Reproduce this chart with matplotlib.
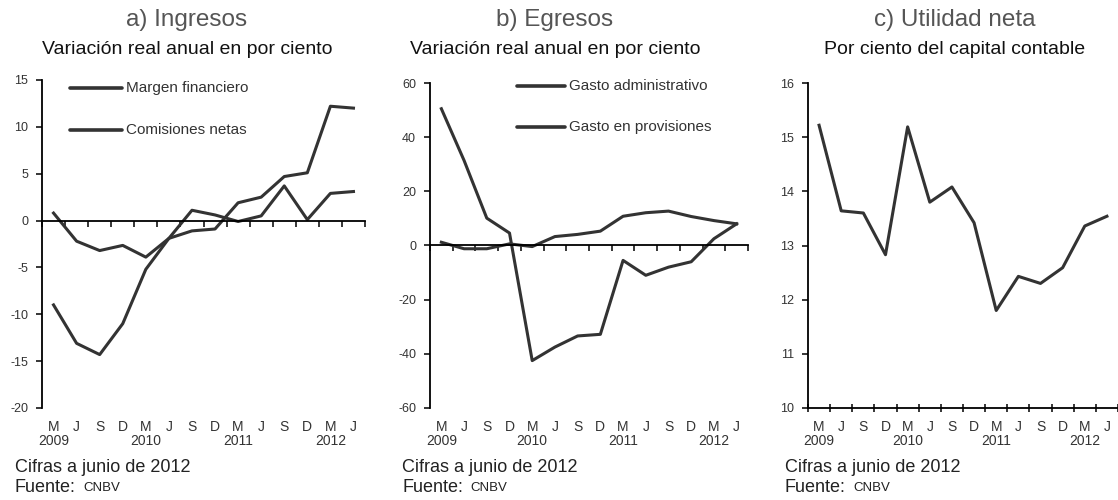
import matplotlib
matplotlib.use("Agg")
import matplotlib.pyplot as plt
import matplotlib.transforms as mtransforms
import numpy as np

plt.rcParams['font.family'] = ['Liberation Sans', 'DejaVu Sans']

# datos
meses = ["M", "J", "S", "D", "M", "J", "S", "D", "M", "J", "S", "D", "M", "J"]
anios = {0: "2009", 4: "2010", 8: "2011", 12: "2012"}

margen_financiero = [0.8, -2.2, -3.2, -2.65, -3.9, -1.9, -1.1, -0.9, 1.9, 2.5, 4.7, 5.1, 12.2, 12.0]
comisiones_netas = [-9.0, -13.1, -14.3, -11.0, -5.2, -1.9, 1.1, 0.6, -0.1, 0.5, 3.7, 0.1, 2.9, 3.1]

gasto_administrativo = [1.2, -1.2, -1.2, 0.6, -0.4, 3.3, 4.1, 5.3, 10.8, 12.1, 12.7, 10.7, 9.2, 8.0]
gasto_provisiones = [50.5, 31.4, 10.1, 4.6, -42.5, -37.5, -33.4, -32.8, -5.5, -11.0, -8.0, -6.0, 2.5, 8.0]

utilidad_neta = [15.22, 13.64, 13.6, 12.83, 15.19, 13.8, 14.08, 13.42, 11.8, 12.43, 12.3, 12.59, 13.36, 13.54]

W, H = 1118, 500
fig = plt.figure(figsize=(W / 100, H / 100), dpi=100)

color_linea = "#333333"
color_texto = "#333333"


def ejes(x0, x1, y0, y1):
    return fig.add_axes([x0 / W, 1 - y1 / H, (x1 - x0) / W, (y1 - y0) / H])


def formato(ax, ylim, yticks, eje_en_cero):
    x = np.arange(len(meses))
    ax.set_xlim(-0.5, len(meses) - 0.5)
    ax.set_ylim(*ylim)
    ax.set_yticks(yticks)
    ax.set_yticklabels([str(v) for v in yticks], fontsize=9, color=color_texto)
    for s in ["top", "right"]:
        ax.spines[s].set_visible(False)
    ax.spines["left"].set_linewidth(1.3)
    ax.spines["bottom"].set_linewidth(1.3)
    if eje_en_cero:
        ax.spines["bottom"].set_position(("data", 0))
    ax.set_xticks(np.arange(-0.5, len(meses) + 0.5, 1.0))
    ax.set_xticklabels([])
    ax.tick_params(axis="x", direction="out", length=4, width=1.1)
    ax.tick_params(axis="y", direction="out", length=4, width=1.1, pad=6)
    ax.patch.set_alpha(0)
    trans = mtransforms.blended_transform_factory(ax.transData, ax.transAxes)
    y0, y1 = ax.get_position().y0, ax.get_position().y1
    alto = (y1 - y0) * H
    for i, m in enumerate(meses):
        ax.text(x[i], -12 / alto, m, transform=trans, ha="center", va="top",
                fontsize=10, color=color_texto)
        if i in anios:
            ax.text(x[i], -26 / alto, anios[i], transform=trans, ha="center", va="top",
                    fontsize=10, color=color_texto)


def leyenda(etiquetas, x0, x1, ys):
    for etq, y in zip(etiquetas, ys):
        fig.add_artist(plt.Line2D([x0 / W, x1 / W], [1 - y / H, 1 - y / H],
                                  color=color_linea, lw=2.6, solid_capstyle="round"))
        fig.text((x1 + 4) / W, 1 - y / H, etq, fontsize=11, va="center", color=color_texto)


def textos(xc, xl, titulo, subtitulo):
    fig.text(xc / W, 1 - 20 / H, titulo, ha="center", va="center", fontsize=17.5, color="#555555")
    fig.text(xc / W, 1 - 50 / H, subtitulo, ha="center", va="center", fontsize=14, color="#111111")
    fig.text(xl / W, 1 - 467 / H, "Cifras a junio de 2012", ha="left", va="center",
             fontsize=13, color="#222222")
    fig.text(xl / W, 1 - 487 / H, "Fuente:", ha="left", va="center", fontsize=13, color="#222222")
    fig.text((xl + 68) / W, 1 - 488 / H, "CNBV", ha="left", va="center", fontsize=9.5, color="#222222")


x = np.arange(len(meses))

# a) Ingresos
ax1 = ejes(42, 365, 80, 408)
ax1.plot(x, margen_financiero, color=color_linea, lw=2.2)
ax1.plot(x, comisiones_netas, color=color_linea, lw=2.2)
formato(ax1, (-20, 15), list(range(-20, 16, 5)), True)
leyenda(["Margen financiero", "Comisiones netas"], 70, 122, [88, 130])
textos(187, 15, "a) Ingresos", "Variación real anual en por ciento")

# b) Egresos
ax2 = ejes(430, 748, 83, 408)
ax2.plot(x, gasto_administrativo, color=color_linea, lw=2.2)
ax2.plot(x, gasto_provisiones, color=color_linea, lw=2.2)
formato(ax2, (-60, 60), list(range(-60, 61, 20)), True)
leyenda(["Gasto administrativo", "Gasto en provisiones"], 517, 565, [86, 127])
textos(555, 402, "b) Egresos", "Variación real anual en por ciento")

# c) Utilidad neta
ax3 = ejes(808, 1118, 83, 408)
ax3.plot(x, utilidad_neta, color=color_linea, lw=2.2)
formato(ax3, (10, 16), list(range(10, 17)), False)
ax3.tick_params(axis="x", direction="inout", length=6)
textos(955, 785, "c) Utilidad neta", "Por ciento del capital contable")

fig.savefig("out.png", dpi=100)
